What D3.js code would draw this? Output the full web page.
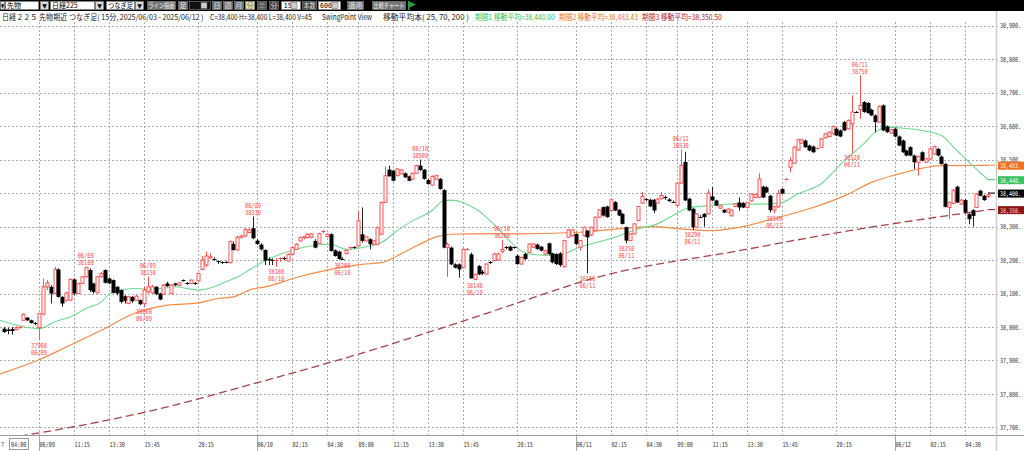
<!DOCTYPE html>
<html><head><meta charset="utf-8">
<script src="https://cdn.jsdelivr.net/npm/d3@7"></script>
<style>body{margin:0;background:#fff;overflow:hidden}svg{display:block}</style>
</head><body>
<svg id="c" width="1024" height="451"></svg>
<script>
// ---------- DATA (15-minute bars, index 0 = 06/07 04:00) ----------
const opens = [
37995,37992,37994,37992,37998,38020,38028,38020,38012,37998,
38038,38120,38120,38100,38172,38090,38080,38080,38142,38100,
38130,38150,38170,38130,38102,38150,38170,38145,38140,38120,
38110,38092,38070,38090,38080,38080,38070,38105,38102,38120,
38100,38098,38130,38100,38130,38124,38140,38131,38130,38131,
38138,38172,38185,38206,38202,38196,38193,38195,38192,38248,
38230,38268,38272,38282,38295,38258,38246,38230,38202,38200,
38198,38202,38205,38197,38217,38232,38257,38266,38267,38268,
38257,38249,38284,38270,38277,38229,38225,38203,38219,38236,
38238,38242,38277,38257,38262,38247,38247,38277,38372,38470,
38467,38452,38457,38459,38450,38442,38459,38482,38470,38439,
38424,38442,38442,38409,38237,38237,38187,38187,38177,38232,
38217,38142,38182,38165,38158,38193,38198,38200,38226,38238,
38240,38238,38213,38188,38218,38223,38238,38246,38240,38218,
38250,38220,38218,38220,38180,38268,38273,38278,38238,38273,
38288,38275,38288,38328,38358,38360,38348,38373,38350,38338,
38298,38258,38278,38318,38370,38381,38380,38380,38370,38383,
38388,38381,38374,38363,38430,38493,38383,38353,38298,38330,
38338,38338,38390,38378,38355,38350,38343,38332,38360,38372,
38370,38357,38377,38387,38387,38419,38417,38392,38349,38359,
38412,38440,38477,38489,38529,38549,38557,38542,38539,38533,
38537,38565,38569,38577,38592,38587,38612,38592,38607,38642,
38649,38672,38669,38649,38632,38612,38662,38599,38579,38592,
38569,38557,38527,38537,38512,38492,38522,38492,38502,38517,
38532,38509,38487,38357,38369,38419,38367,38379,38337,38349,
38357,38407,38392,38390];
const highs = [
38000,37998,38000,38002,38003,38040,38030,38022,38015,38042,
38145,38140,38125,38180,38175,38092,38105,38145,38145,38132,
38152,38180,38175,38132,38152,38165,38172,38148,38142,38122,
38112,38095,38092,38092,38095,38082,38120,38150,38125,38122,
38102,38128,38135,38128,38132,38134,38142,38134,38142,38134,
38162,38212,38225,38220,38208,38198,38196,38198,38258,38255,
38272,38276,38295,38295,38330,38262,38250,38232,38208,38205,
38205,38208,38210,38220,38240,38250,38270,38272,38280,38280,
38262,38282,38290,38280,38280,38232,38228,38208,38232,38240,
38242,38347,38357,38272,38265,38260,38300,38375,38480,38482,
38470,38475,38472,38462,38452,38462,38485,38500,38472,38442,
38453,38455,38445,38412,38252,38240,38190,38190,38235,38236,
38222,38160,38185,38170,38190,38197,38222,38222,38260,38242,
38243,38240,38216,38210,38222,38250,38250,38249,38242,38230,
38252,38222,38220,38224,38260,38292,38292,38280,38260,38300,
38290,38300,38330,38352,38360,38362,38382,38376,38352,38340,
38300,38280,38310,38362,38403,38385,38383,38382,38385,38403,
38392,38385,38378,38432,38530,38523,38386,38356,38340,38334,
38340,38410,38418,38380,38365,38352,38355,38350,38370,38387,
38373,38373,38398,38398,38459,38422,38420,38395,38362,38409,
38415,38444,38507,38540,38562,38562,38560,38545,38542,38537,
38565,38580,38585,38602,38596,38590,38615,38620,38692,38645,
38752,38675,38672,38652,38635,38662,38665,38602,38592,38595,
38572,38560,38530,38540,38515,38512,38525,38505,38535,38542,
38535,38512,38490,38375,38412,38422,38382,38382,38340,38352,
38400,38410,38395,38402];
const lows = [
37982,37978,37977,37990,37995,38018,38018,38010,38005,37960,
38035,38110,38070,38098,38088,38060,38075,38078,38095,38098,
38128,38148,38105,38100,38100,38148,38130,38128,38100,38095,
38070,38070,38068,38072,38078,38065,38060,38100,38100,38095,
38080,38095,38120,38098,38122,38122,38135,38126,38128,38126,
38136,38170,38180,38203,38198,38188,38188,38190,38190,38228,
38228,38264,38268,38280,38262,38245,38228,38185,38185,38185,
38180,38195,38200,38195,38215,38230,38255,38262,38265,38266,
38235,38247,38280,38268,38225,38210,38201,38200,38217,38232,
38234,38240,38252,38255,38232,38245,38245,38275,38370,38450,
38435,38450,38455,38445,38435,38440,38457,38466,38440,38425,
38422,38440,38410,38235,38150,38185,38175,38147,38175,38228,
38145,38140,38155,38155,38156,38188,38196,38198,38220,38232,
38226,38234,38186,38186,38200,38221,38236,38230,38226,38215,
38215,38190,38185,38180,38178,38266,38270,38245,38228,38270,
38160,38272,38286,38326,38330,38326,38346,38346,38331,38306,
38250,38256,38276,38316,38368,38376,38358,38340,38368,38381,
38380,38373,38370,38360,38428,38376,38346,38290,38296,38325,
38300,38336,38376,38361,38352,38340,38340,38330,38358,38347,
38355,38354,38375,38385,38385,38385,38400,38342,38340,38357,
38397,38438,38462,38487,38527,38547,38535,38525,38520,38530,
38535,38563,38567,38575,38570,38567,38585,38590,38520,38640,
38622,38640,38637,38630,38582,38610,38585,38580,38577,38567,
38540,38520,38510,38510,38472,38452,38495,38490,38500,38515,
38510,38485,38357,38322,38367,38370,38365,38340,38307,38300,
38355,38390,38377,38386];
const closes = [
37985,37988,37988,37998,38000,38038,38020,38012,38010,38040,
38120,38132,38100,38172,38090,38070,38102,38142,38100,38130,
38150,38178,38110,38105,38150,38160,38132,38130,38102,38100,
38075,38078,38090,38077,38092,38068,38110,38120,38120,38098,
38082,38125,38122,38125,38125,38132,38138,38129,38140,38129,
38160,38200,38212,38210,38200,38193,38191,38193,38255,38230,
38268,38272,38292,38290,38265,38248,38232,38198,38200,38198,
38200,38205,38202,38217,38237,38247,38267,38270,38277,38278,
38237,38279,38286,38277,38227,38212,38203,38202,38229,38238,
38236,38317,38257,38269,38247,38257,38297,38372,38452,38450,
38437,38472,38469,38447,38437,38459,38482,38469,38442,38427,
38450,38452,38412,38237,38247,38187,38177,38172,38232,38233,
38145,38157,38157,38160,38188,38192,38218,38218,38232,38236,
38228,38237,38188,38208,38203,38248,38248,38233,38228,38228,
38218,38193,38188,38185,38258,38290,38290,38248,38258,38298,
38268,38298,38328,38350,38333,38328,38380,38348,38333,38308,
38258,38278,38308,38360,38390,38379,38360,38348,38382,38393,
38385,38376,38372,38430,38483,38378,38348,38298,38338,38328,
38328,38400,38378,38363,38362,38342,38352,38349,38368,38357,
38357,38372,38397,38396,38442,38387,38402,38349,38359,38399,
38399,38442,38497,38537,38559,38559,38537,38527,38522,38535,
38562,38577,38582,38599,38572,38569,38587,38617,38642,38642,
38662,38642,38639,38632,38612,38659,38587,38582,38589,38569,
38542,38522,38512,38512,38492,38509,38497,38502,38532,38539,
38512,38487,38359,38372,38409,38372,38379,38342,38322,38332,
38397,38392,38379,38395];

// moving averages read at sample bars
const ma25Bar = [-1,9,13,18,21,25,27,30,33,37,40,44,47,50,54,57,61,63,67,75,84,88,94,97,101,105,110,113,115,118,122,125,135,142,148,157,163,168,172,176,182,189,195,200,204,210,216,221,224,227,231,236,241,245,249,253];
const ma25Val = [38020,37995,38015,38035,38055,38075,38098,38110,38115,38113,38115,38120,38115,38110,38120,38135,38155,38170,38197,38232,38247,38232,38242,38252,38287,38317,38347,38377,38379,38372,38347,38317,38218,38213,38238,38268,38293,38308,38333,38356,38363,38368,38367,38372,38397,38427,38497,38547,38582,38597,38594,38587,38572,38527,38482,38440];
const ma70Bar = [-1,9,16,25,33,42,50,55,59,63,68,75,84,92,97,101,106,112,115,125,131,148,161,167,174,182,189,199,208,217,223,230,235,241,253];
const ma70Val = [37860,37902,37940,37990,38038,38065,38072,38085,38090,38110,38122,38147,38172,38187,38192,38212,38242,38272,38277,38279,38278,38283,38296,38300,38293,38288,38298,38327,38357,38397,38432,38457,38472,38482,38483];
const ma200Bar = [1,17,38,64,90,116,129,153,189,217,253];
const ma200Val = [37668,37700,37750,37830,37915,38010,38060,38150,38228,38287,38350];

// swing points
const swingBar   = [9,21,36,37,64,70,87,107,121,128,150,160,174,177,198,218,220];
const swingSide  = ["L","H","L","H","H","L","L","H","L","H","L","L","H","L","L","L","H"];
const swingDate  = ["06/09","06/09","06/09","06/09","06/09","06/10","06/10","06/10","06/10","06/10","06/11","06/11","06/11","06/11","06/11","06/11","06/11"];
const swingPrice = ["37960","38180","38060","38150","38330","38180","38200","38500","38140","38260","38160","38250","38530","38290","38340","38520","38750"];

// axes
const timeTickBar = [9,18,27,36,50,65,74,83,91,100,109,118,132,147,156,165,173,182,191,200,214,229,238,247];
const timeTickLabel = ["06/09","11:15","13:30","15:45","20:15","06/10","02:15","04:30","09:00","11:15","13:30","15:45","20:15","06/11","02:15","04:30","09:00","11:15","13:30","15:45","20:15","06/12","02:15","04:30"];
const priceTicks = [37700,37800,37900,38000,38100,38200,38300,38400,38500,38600,38700,38800,38900];
const priceTickLabel = ["37,700.","37,800.","37,900.","38,000.","38,100.","38,200.","38,300.","38,400.","38,500.","38,600.","38,700.","38,800.","38,900."];
const lastValues = [38483.43,38440.00,38400,38350.50];
const lastLabels = ["38,483.","38,440.","38,400.","38,350."];

// ---------- DRAW ----------
const svg = d3.select("#c");
const PX_R = 996, PY_T = 22, PY_B = 435;
const x = d3.scaleLinear().domain([9,247]).range([39,964.8]);
const y = d3.scaleLinear().domain([37700,38900]).range([427.4,25.7]);
const RED = "#ff5050", GREEN = "#6fd88f", ORANGE = "#f58a45", DRED = "#a8444a";
const MONO = "'DejaVu Sans Mono','Liberation Mono',monospace";
const JP = "'Noto Sans CJK JP','Noto Sans',sans-serif";

// text squeezed horizontally by a transform so its box is its drawn size
function sq(parent, t, x0, y0, width, size, fam, fill, anchor) {
  const g = parent.append("g");
  const tx = g.append("text").text(t).attr("font-family",fam).attr("font-size",size).attr("fill",fill);
  const natural = tx.node().getComputedTextLength() || 1;
  const s = width / natural;
  let xs = x0;
  if (anchor === "middle") xs = x0 - width/2;
  g.attr("transform",`translate(${xs},${y0}) scale(${s},1)`);
  return g;
}
// text fitted inside a max width, centred on cx (never stretched)
function fit(parent, t, cx, y0, maxW, size, fam, fill, align) {
  const g = parent.append("g");
  const tx = g.append("text").text(t).attr("font-family",fam).attr("font-size",size).attr("fill",fill);
  const natural = tx.node().getComputedTextLength() || 1;
  const s = Math.min(1, maxW / natural);
  const w = natural * s;
  const xs = align === "right" ? cx - w : cx - w/2;
  g.attr("transform",`translate(${xs},${y0}) scale(${s},1)`);
  return g;
}

svg.append("rect").attr("width",1024).attr("height",451).attr("fill","#fff");
svg.append("defs").append("clipPath").attr("id","plot")
  .append("rect").attr("x",0).attr("y",PY_T).attr("width",PX_R).attr("height",PY_B-PY_T);

// grid
const grid = svg.append("g");
priceTicks.forEach(v=>{
  grid.append("line").attr("x1",0).attr("x2",999).attr("y1",Math.round(y(v))+0.5).attr("y2",Math.round(y(v))+0.5)
    .attr("stroke","#aaa").attr("stroke-dasharray","2,2");
});
timeTickBar.forEach((b,k)=>{
  const xx = Math.round(x(b))+0.5;
  grid.append("line").attr("x1",xx).attr("x2",xx).attr("y1",PY_T).attr("y2",PY_B)
    .attr("stroke","#aaa").attr("stroke-dasharray","2,2");
  if (timeTickLabel[k].includes("/")) {
    grid.append("line").attr("x1",xx).attr("x2",xx).attr("y1",PY_B).attr("y2",451).attr("stroke","#aaa");
  }
});
svg.append("line").attr("x1",0).attr("x2",1024).attr("y1",PY_B+0.5).attr("y2",PY_B+0.5).attr("stroke","#999");
svg.append("line").attr("x1",PX_R+0.5).attr("x2",PX_R+0.5).attr("y1",11).attr("y2",451).attr("stroke","#ccc").attr("stroke-width",1.5);

// price labels
priceTicks.forEach((v,k)=>{ sq(svg, priceTickLabel[k], 1000, y(v)+2.6, 21, 7, MONO, "#333"); });
// time labels
timeTickBar.forEach((b,k)=>{ sq(svg, timeTickLabel[k], Math.round(x(b))+0.5, 447, 15.5, 7, MONO, "#333"); });
sq(svg, "7", 1, 447, 3, 7, MONO, "#333");
svg.append("rect").attr("x",9.5).attr("y",438.5).attr("width",19).attr("height",11).attr("fill","none").attr("stroke","#999");
sq(svg, "04:00", 11, 447, 15.5, 7, MONO, "#333");

const plot = svg.append("g").attr("clip-path","url(#plot)");

// moving averages
const line = d3.line().x(d=>x(d[0])).y(d=>y(d[1])).curve(d3.curveMonotoneX);
plot.append("path").attr("d",line(ma200Bar.map((b,k)=>[b,ma200Val[k]])))
  .attr("fill","none").attr("stroke",DRED).attr("stroke-width",1.3).attr("stroke-dasharray","8,4");
plot.append("path").attr("d",line(ma70Bar.map((b,k)=>[b,ma70Val[k]])))
  .attr("fill","none").attr("stroke",ORANGE).attr("stroke-width",1.2);
plot.append("path").attr("d",line(ma25Bar.map((b,k)=>[b,ma25Val[k]])))
  .attr("fill","none").attr("stroke",GREEN).attr("stroke-width",1.1);

// candles
const cg = plot.append("g");
opens.forEach((o,i)=>{
  const c = closes[i], h = highs[i], l = lows[i];
  const cx = Math.round(x(i))+0.5;
  const up = c > o;
  const col = up ? RED : "#000";
  cg.append("line").attr("x1",cx).attr("x2",cx).attr("y1",y(h)).attr("y2",y(l)).attr("stroke",up?RED:"#222");
  const top = y(Math.max(o,c)), bot = y(Math.min(o,c));
  if (Math.abs(bot-top) < 1.2) {
    cg.append("line").attr("x1",cx-2).attr("x2",cx+2).attr("y1",Math.round(top)+0.5).attr("y2",Math.round(top)+0.5).attr("stroke",col);
  } else if (up) {
    cg.append("rect").attr("x",cx-1.5).attr("y",top).attr("width",3).attr("height",bot-top)
      .attr("fill","#fff").attr("stroke",RED).attr("stroke-width",1);
  } else {
    cg.append("rect").attr("x",cx-2).attr("y",top).attr("width",4).attr("height",bot-top).attr("fill","#000");
  }
});

// swing labels
swingBar.forEach((b,k)=>{
  const cx = x(b);
  let l1, l2, y1, y2;
  if (swingSide[k]==="H") { const yy = y(highs[b]); l1 = swingDate[k]; l2 = swingPrice[k]; y1 = yy-8.5; y2 = yy-1.5; }
  else { const yy = y(lows[b]); l1 = swingPrice[k]; l2 = swingDate[k]; y1 = yy+7.5; y2 = yy+14.5; }
  sq(svg, l1, cx, y1, 16, 7, MONO, "#ff4848", "middle");
  sq(svg, l2, cx, y2, 16, 7, MONO, "#ff4848", "middle");
});

// last value markers
const markCol = [ORANGE,"#3cc060","#000","#8b1515"];
const markTxt = ["#fff3e0","#f0fff0","#fff","#ffd0d0"];
const markFill = ["#f07020","#3cc060","#000","#8b1515"];
lastValues.forEach((v,k)=>{
  const yy = y(v);
  svg.append("line").attr("x1",988).attr("x2",995).attr("y1",yy).attr("y2",yy).attr("stroke",markCol[k]);
  svg.append("rect").attr("x",998).attr("y",yy-3.5).attr("width",26).attr("height",8).attr("fill",markFill[k]);
  sq(svg, lastLabels[k], 1000, yy+3, 21, 6.5, MONO, markTxt[k]);
});

// header line
const hdr = [
  {x:2,len:202,t:"日経２２５ 先物期近 つなぎ足( 15分, 2025/06/03 - 2025/06/12 )",c:"#222"},
  {x:210,len:102,t:"C=38,400 H=38,400 L=38,400 V=45",c:"#222"},
  {x:322,len:50,t:"SwingPoint View",c:"#222"},
  {x:383,len:86,t:"移動平均本( 25, 70, 200 )",c:"#222"},
  {x:475,len:80,t:"期間1 移動平均=38,440.00",c:"#2fbf4f"},
  {x:559,len:79,t:"期間2 移動平均=38,483.43",c:"#f07020"},
  {x:642,len:80,t:"期間3 移動平均=38,350.50",c:"#b02020"}
];
hdr.forEach(d=>{ sq(svg, d.t, d.x, 19.5, d.len, 8, JP, d.c); });

// toolbar
const tb = svg.append("g");
tb.append("rect").attr("width",1024).attr("height",11).attr("fill","#000");
const tbItems = [
  [0,4,"▼","#ddd","#000"],[5,33,"先物","#fff","#000"],[40,8,"▼","#ddd","#000"],
  [50,44,"日経225","#fff","#000"],[95,8,"▼","#ddd","#000"],
  [106,28,"つなぎ足","#fff","#000"],[135,8,"▼","#ddd","#000"],
  [147,28,"ライン描画","#777","#eee"],[178,9,"足","#777","#eee"],
  [189,21,"","#111","#eee"],[212,9,"日","#777","#ddd"],[223,9,"週","#777","#ddd"],
  [234,9,"月","#777","#ddd"],[245,9,"分","#e8e4a8","#666"],[257,9,"年","#555","#999"],
  [269,9,"分","#444","#ddd"],[281,19,"15","#fff","#000"],[302,14,"本数","#444","#ddd"],
  [318,22,"600","#fff","#000"],[347,16,"適用","#777","#eee"],[372,33,"比較チャート","#777","#eee"]
];
tbItems.forEach(([xx,w,t,bg,fg])=>{
  tb.append("rect").attr("x",xx+0.5).attr("y",1.5).attr("width",w).attr("height",8).attr("fill",bg).attr("stroke","#888").attr("stroke-width",0.6);
  if (!t) return;
  if (t==="15"||t==="600") fit(tb, t, xx+w-8, 8.4, w-10, 7, MONO, fg, "right");
  else if (t==="▼") fit(tb, t, xx+w/2+0.5, 8, w-1, 6, "'DejaVu Sans',sans-serif", fg);
  else if (["先物","日経225","つなぎ足"].includes(t)) {
    const g = fit(tb, t, 0, 8.4, w-3, 7, JP, fg);
    const tr = g.attr("transform").replace(/translate\(([-\d.]+),/, (m,a)=>`translate(${xx+2},`);
    g.attr("transform", tr);
  }
  else fit(tb, t, xx+w/2+0.5, 8.4, w-2, 7, JP, fg);
});
[201,291,332].forEach(xx=>{
  tb.append("rect").attr("x",xx).attr("y",2.5).attr("width",6).attr("height",6).attr("fill","#ccc").attr("stroke","#666").attr("stroke-width",0.5);
});
tb.append("path").attr("d","M408,1 L409.5,1 L409.5,10 L408,10 Z M409.5,1.5 L416,4.5 L409.5,7.5 Z").attr("fill","#2a9a3a");
</script>
</body></html>
